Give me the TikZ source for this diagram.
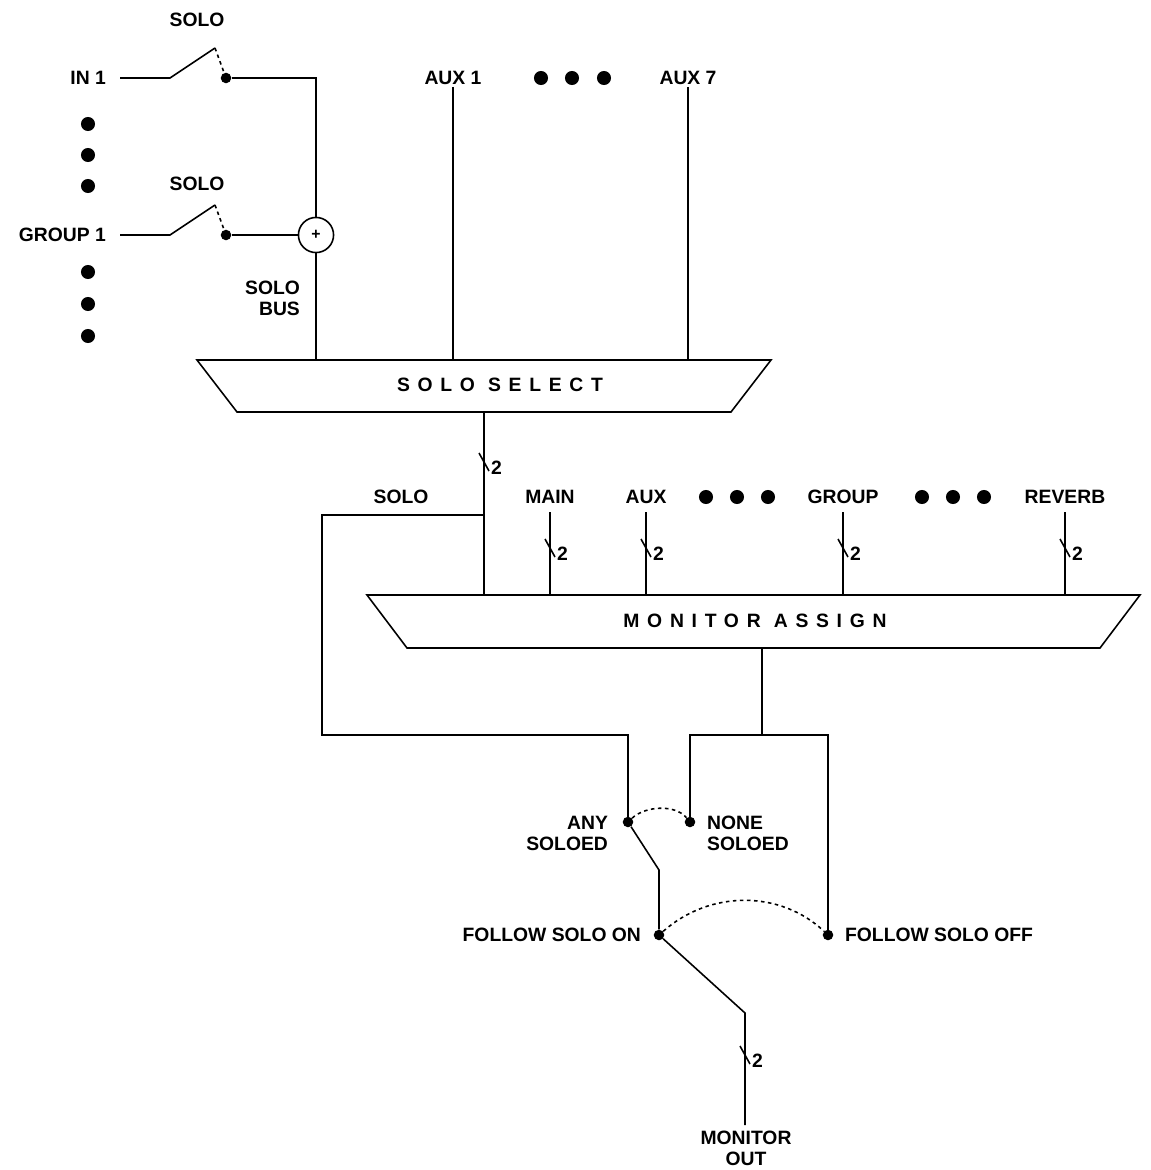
\documentclass[tikz,border=0pt]{standalone}
\usepackage{fontspec}
\setmainfont{Liberation Sans}
\usetikzlibrary{calc}
\tikzset{
  lbl/.style={font=\bfseries\fontsize{11}{12}\selectfont, inner sep=1pt},
  wire/.style={line width=0.9pt},
  dot/.style={circle, fill=black, inner sep=0pt, minimum size=6pt},
  bigdot/.style={circle, fill=black, inner sep=0pt, minimum size=8pt},
  lever/.style={wire, dash pattern=on 2pt off 2pt},
}
\newcommand{\bustick}[2]{% position, label
  \draw[wire] ($(#1)+(-5,-9)$) -- ($(#1)+(5,9)$);
  \node[lbl, anchor=west] at ($(#1)+(5,6)$) {#2};}
\begin{document}
\begin{tikzpicture}[x=0.02cm, y=-0.02cm]
        \useasboundingbox (0,0) rectangle (1151,1170);

        % Input switches
        \node[lbl, anchor=east] (in1) at (108,78) {IN 1};
        \node[lbl] (solo1) at (197,20) {SOLO};
        \node[dot] (c1) at (226,78) {};
        \draw[wire] (in1.east) ++(12,0) -- (170,78) -- (215,48);
        \draw[lever] (215,48) -- (c1);
        \node[lbl, anchor=east] (grp1) at (108,235) {GROUP 1};
        \node[lbl] (solo2) at (197,184) {SOLO};
        \node[dot] (c2) at (226,235) {};
        \draw[wire] (grp1.east) ++(12,0) -- (170,235) -- (215,205);
        \draw[lever] (215,205) -- (c2);
        \foreach \y in {124,155,186,272,304,336}
          \node[bigdot] at (88,\y) {};

        % Solo bus
        \node[draw, circle, wire, inner sep=0pt, minimum size=20pt/1] (sum) at (316,235) {};
        \node[font=\bfseries\small] at (sum) {+};
        \draw[wire] (c1) -- (316,78) -- (sum.north);
        \draw[wire] (c2) -- (sum.west);
        \node[lbl, align=right, anchor=east] (bus) at (302,298) {SOLO\\BUS};

        % Aux sources
        \node[lbl] (aux1) at (453,78) {AUX 1};
        \node[lbl] (aux7) at (688,78) {AUX 7};
        \foreach \x in {541,572,604}
          \node[bigdot] at (\x,78) {};

        % Solo select
        \draw[wire] (197,360) -- (771,360) -- (731,412) -- (237,412) -- cycle;
        \node[lbl, font=\bfseries\fontsize{11}{12}\selectfont\addfontfeature{LetterSpace=40}] (sel) at (500,385) {SOLO SELECT};
        \draw[wire] (sum.south) -- (316,360);
        \draw[wire] (aux1.south) -- (453,360);
        \draw[wire] (aux7.south) -- (688,360);

        % Solo select output
        \coordinate (split) at (484,515);
        \draw[wire] (484,412) -- (484,595);
        \bustick{484,462}{2}
        \node[lbl] (solo3) at (401,497) {SOLO};
        \draw[wire] (split) -- (322,515) -- (322,735) -- (628,735) -- (628,822);

        % Monitor sources
        \foreach \x/\t/\n in {550/MAIN/main,646/AUX/aux,843/GROUP/grp,1065/REVERB/rev}{
          \node[lbl] (\n) at (\x,497) {\t};
          \draw[wire] (\x,512) -- (\x,595);
          \bustick{\x,548}{2}
        }
        \foreach \x in {706,737,768,922,953,984}
          \node[bigdot] at (\x,497) {};

        % Monitor assign
        \draw[wire] (367,595) -- (1140,595) -- (1100,648) -- (407,648) -- cycle;
        \node[lbl, font=\bfseries\fontsize{11}{12}\selectfont\addfontfeature{LetterSpace=40}] (mon) at (755,621) {MONITOR ASSIGN};
        \draw[wire] (762,648) -- (762,735);
        \draw[wire] (690,822) -- (690,735) -- (828,735) -- (828,935);

        % Output switches
        \node[dot] (any) at (628,822) {};
        \node[dot] (none) at (690,822) {};
        \node[dot] (fon) at (659,935) {};
        \node[dot] (foff) at (828,935) {};
        \node[lbl, align=right, anchor=east] at (610,833) {ANY\\SOLOED};
        \node[lbl, align=left, anchor=west] at (705,833) {NONE\\SOLOED};
        \node[lbl, anchor=east] at (643,935) {FOLLOW SOLO ON};
        \node[lbl, anchor=west] at (843,935) {FOLLOW SOLO OFF};
        \draw[lever] (any) .. controls (645,806) and (675,804) .. (none);
        \draw[lever] (fon) .. controls (710,890) and (780,890) .. (foff);
        \draw[wire] (any) -- (659,870) -- (fon);
        \node[lbl, align=center] (out) at (746,1148) {MONITOR\\OUT};
        \draw[wire] (fon) -- (745,1013) -- (745,1125);
        \bustick{745,1055}{2}
    \end{tikzpicture}
\end{document}
